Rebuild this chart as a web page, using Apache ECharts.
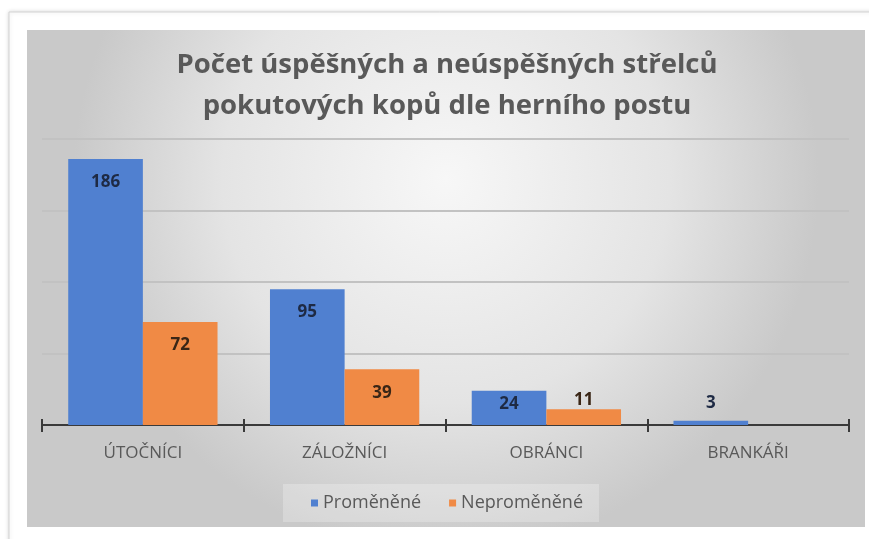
<!DOCTYPE html>
<html>
<head>
<meta charset="utf-8">
<script src="https://cdn.jsdelivr.net/npm/echarts@6/dist/echarts.min.js"></script>
<style>
  html, body { margin: 0; padding: 0; background: #fff; }
  #chart { width: 869px; height: 539px; }
</style>
</head>
<body>
<div id="chart"></div>
<script>
// data
const categories = ['ÚTOČNÍCI', 'ZÁLOŽNÍCI', 'OBRÁNCI', 'BRANKÁŘI']
const scored = [186, 95, 24, 3]
const missed = [72, 39, 11, null]
const seriesNames = ['Proměněné', 'Neproměněné']

const textGrey = '#595959'
const blue = '#5080d0'
const orange = '#f08a45'
const axisColor = '#3a3a3a'

// big bars get the value inside the top, small ones sit on or above the bar
function labelled(values) {
  return values.map(v => {
    if (v == null) return '-'
    if (v >= 30) return v
    if (v >= 20) return { value: v, label: { position: 'insideTop', distance: 5 } }
    return { value: v, label: { position: 'top', distance: v < 5 ? 9 : 1 } }
  })
}

const chart = echarts.init(document.getElementById('chart'))

chart.setOption({
  backgroundColor: '#fff',
  animation: false,
  graphic: [
    {
      type: 'rect',
      z: -10,
      shape: { x: 9, y: 12, width: 880, height: 560 },
      style: { fill: '#fff', stroke: '#d4d4d4', lineWidth: 1, shadowBlur: 4, shadowColor: 'rgba(0,0,0,0.15)' },
      silent: true
    },
    {
      type: 'rect',
      z: -9,
      shape: { x: 27, y: 30, width: 838, height: 497 },
      style: {
        fill: new echarts.graphic.RadialGradient(0.5, 0.3, 0.75, [
          { offset: 0, color: '#f7f7f7' },
          { offset: 0.6, color: '#e4e4e4' },
          { offset: 1, color: '#c9c9c9' }
        ])
      },
      silent: true
    }
  ],
  title: {
    text: 'Počet úspěšných a neúspěšných střelců\npokutových kopů dle herního postu',
    left: 442,
    top: 40,
    textAlign: 'center',
    textStyle: {
      fontFamily: 'Open Sans',
      fontWeight: 'bold',
      fontSize: 27.5,
      lineHeight: 41,
      color: textGrey
    }
  },
  legend: {
    data: seriesNames,
    bottom: 17,
    left: 283,
    itemWidth: 7,
    itemHeight: 7,
    itemGap: 28,
    icon: 'rect',
    padding: [10, 16, 10, 28],
    backgroundColor: 'rgba(255,255,255,0.25)',
    textStyle: { color: textGrey, fontSize: 18, fontFamily: 'Open Sans' }
  },
  grid: { left: 42, right: 20, top: 139, bottom: 114 },
  xAxis: [
    {
      type: 'category',
      data: categories,
      axisLine: { show: true, lineStyle: { color: axisColor, width: 2 } },
      axisTick: { show: true, interval: 0, length: 7, lineStyle: { color: axisColor, width: 2 } },
      axisLabel: { color: textGrey, fontSize: 17, margin: 20, fontFamily: 'Open Sans' }
    },
    {
      type: 'category',
      data: categories,
      position: 'bottom',
      axisLine: { show: false },
      axisTick: { show: true, interval: 0, inside: true, length: 6, lineStyle: { color: axisColor, width: 2 } },
      axisLabel: { show: false }
    }
  ],
  yAxis: {
    type: 'value',
    min: 0,
    max: 200,
    interval: 50,
    axisLine: { show: false },
    axisTick: { show: false },
    axisLabel: { show: false },
    splitLine: { lineStyle: { color: '#c2c2c2', width: 2 } }
  },
  series: [
    {
      name: seriesNames[0],
      type: 'bar',
      data: labelled(scored),
      itemStyle: { color: blue },
      barGap: '0%',
      barCategoryGap: '26%',
      label: {
        show: true,
        position: 'insideTop',
        distance: 15,
        color: '#1e2a44',
        fontWeight: 'bold',
        fontSize: 17,
        fontFamily: 'Open Sans'
      }
    },
    {
      name: seriesNames[1],
      type: 'bar',
      data: labelled(missed),
      itemStyle: { color: orange },
      label: {
        show: true,
        position: 'insideTop',
        distance: 15,
        color: '#3a2616',
        fontWeight: 'bold',
        fontSize: 17,
        fontFamily: 'Open Sans'
      }
    }
  ]
})
</script>
</body>
</html>
